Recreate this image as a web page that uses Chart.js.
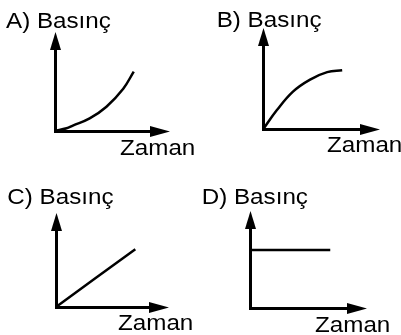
<!DOCTYPE html>
<html>
<head>
<meta charset="utf-8">
<script src="https://cdn.jsdelivr.net/npm/chart.js@4.4.1/dist/chart.umd.min.js"></script>
<style>
body { margin: 0; background: #fff; }
#wrap { position: relative; width: 401px; height: 335px; }
#wrap canvas { position: absolute; }
</style>
</head>
<body>
<div id="wrap">
  <canvas id="chartA" width="200" height="167" style="left:0;top:0"></canvas>
  <canvas id="chartB" width="201" height="167" style="left:200px;top:0"></canvas>
  <canvas id="chartC" width="200" height="168" style="left:0;top:167px"></canvas>
  <canvas id="chartD" width="201" height="168" style="left:200px;top:167px"></canvas>
</div>
<script>
var yLabel = "Basınç";
var xLabel = "Zaman";
var letters = ["A)", "B)", "C)", "D)"];

// zaman / basınç (axis 0..10)
var timeA = [0, 1.1, 1.7, 3.3, 4.9, 6.5, 7.5];
var pressureA = [0, 0.3, 0.6, 1.4, 2.7, 4.7, 6.6];

var timeB = [0, 1.3, 2.8, 4.4, 6.0, 7.4];
var pressureB = [0, 2.1, 4.1, 5.4, 6.2, 6.4];

var timeC = [0, 7.7];
var pressureC = [0, 6.8];

var timeD = [0, 7.5];
var pressureD = [6.6, 6.6];

var FONT = '22px "Liberation Sans", Arial, sans-serif';

// arrow heads on the axes + the text labels
var arrowAxes = {
    id: 'arrowAxes',
    afterDraw: function (chart, args, opts) {
        var ctx = chart.ctx;
        var ca = chart.chartArea;
        var ox = Math.round(chart.scales.y.right - 1.5) + 1.5;
        var oy = Math.round(chart.scales.x.top - 1.5) + 1.5;
        ctx.save();
        ctx.fillStyle = '#000';
        ctx.beginPath();
        ctx.moveTo(ox, ca.top - 9);
        ctx.lineTo(ox - 5.5, ca.top + 9);
        ctx.lineTo(ox + 5.5, ca.top + 9);
        ctx.closePath();
        ctx.fill();
        ctx.beginPath();
        ctx.moveTo(ca.right + 10, oy);
        ctx.lineTo(ca.right - 10, oy - 5.5);
        ctx.lineTo(ca.right - 10, oy + 5.5);
        ctx.closePath();
        ctx.fill();

        ctx.font = FONT;
        ctx.textBaseline = 'alphabetic';
        ctx.textAlign = 'left';
        drawText(ctx, opts.title, opts.titleAt[0], opts.titleAt[1]);
        drawText(ctx, xLabel, opts.xAt[0], opts.xAt[1]);
        ctx.restore();
    }
};

function drawText(ctx, text, x, y) {
    ctx.save();
    ctx.translate(x, y);
    ctx.scale(1.1, 1);
    ctx.fillText(text, 0, 0);
    ctx.restore();
}

function axis() {
    return {
        type: 'linear',
        min: 0,
        max: 10,
        ticks: { display: false },
        grid: { display: false, drawTicks: false },
        border: { display: true, color: '#000', width: 3 }
    };
}

function makePanel(id, letter, times, pressures, pad, titleAt, xAt) {
    var pts = [];
    for (var i = 0; i < times.length; i++) {
        pts.push({ x: times[i], y: pressures[i] });
    }
    return new Chart(document.getElementById(id), {
        type: 'line',
        data: {
            datasets: [{
                data: pts,
                borderColor: '#000',
                borderWidth: 2.5,
                pointRadius: 0,
                fill: false,
                tension: 0.4,
                clip: false
            }]
        },
        options: {
            responsive: false,
            animation: false,
            devicePixelRatio: 1,
            layout: { padding: pad },
            scales: { x: axis(), y: axis() },
            plugins: {
                legend: { display: false },
                tooltip: { enabled: false },
                arrowAxes: { title: letter + " " + yLabel, titleAt: titleAt, xAt: xAt }
            }
        },
        plugins: [arrowAxes]
    });
}

makePanel('chartA', letters[0], timeA, pressureA,
    { left: 55, top: 41, right: 40, bottom: 36 }, [6, 27.5], [120, 155]);
makePanel('chartB', letters[1], timeB, pressureB,
    { left: 63, top: 37, right: 31, bottom: 37.5 }, [16.7, 26.7], [127, 152]);
makePanel('chartC', letters[2], timeC, pressureC,
    { left: 56, top: 55, right: 41, bottom: 28 }, [7.3, 37.3], [118, 163]);
makePanel('chartD', letters[3], timeD, pressureD,
    { left: 50, top: 53, right: 44, bottom: 27 }, [1.7, 37.3], [115, 164.7]);
</script>
</body>
</html>
